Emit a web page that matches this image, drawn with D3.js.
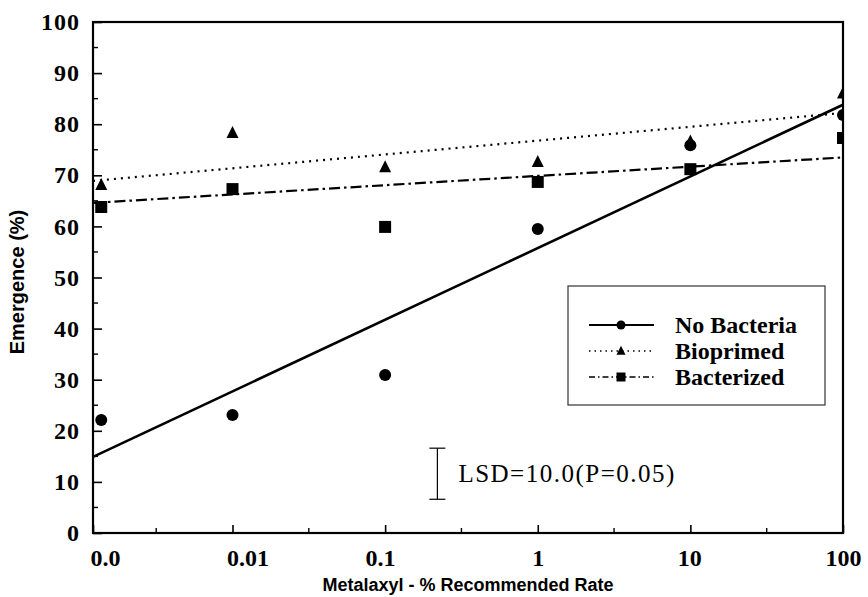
<!DOCTYPE html>
<html>
<head>
<meta charset="utf-8">
<script src="https://cdn.jsdelivr.net/npm/d3@7"></script>
<style>
  body { margin: 0; background: #fff; }
  svg { display: block; }
  .tick-label { font-family: "Liberation Serif", "Times New Roman", serif; font-weight: bold; font-size: 24px; fill: #000; }
  .axis-title { font-family: "Liberation Sans", Arial, sans-serif; font-weight: bold; font-size: 18px; fill: #000; }
  .legend-text { font-family: "Liberation Serif", "Times New Roman", serif; font-weight: bold; font-size: 24px; fill: #000; }
  .lsd-text { font-family: "Liberation Serif", "Times New Roman", serif; font-size: 25px; letter-spacing: 1.5px; fill: #000; }
</style>
</head>
<body>
<svg id="chart" width="868" height="597"></svg>
<script>
// x categories (metalaxyl, % of recommended rate) and where they sit on a log10 axis
const rateLabels = ["0.0", "0.01", "0.1", "1", "10", "100"];
const rateLog = [-2.86, -2, -1, 0, 1, 2]; // "0.0" has no log, drawn just inside the axis
const tickLog = [-2.914, -2, -1, 0, 1, 2];
const minorLog = [-2.5, -1.5, -0.5, 0.5, 1.5];

// emergence (%)
const noBacteria = [22.1, 23.1, 30.9, 59.5, 75.9, 81.8];
const bioprimed = [68.1, 78.3, 71.6, 72.6, 76.6, 86.0];
const bacterized = [63.8, 67.3, 59.9, 68.7, 71.2, 77.3];

// fitted lines: value at left edge and at 100
const seriesNames = ["No Bacteria", "Bioprimed", "Bacterized"];
const fitStart = [14.9, 68.9, 64.6];
const fitEnd = [83.8, 82.2, 73.5];

const yTicks = [0, 10, 20, 30, 40, 50, 60, 70, 80, 90, 100];
const yMinor = [5, 15, 25, 35, 45, 55, 65, 75, 85, 95];

// least significant difference bar
const lsdValue = 10.0;
const lsdCenter = 11.6;
const lsdRate = 0.22;

const width = 868, height = 597;
const margin = { top: 22, right: 25, bottom: 64, left: 93 };

const svg = d3.select("#chart");
const x = d3.scaleLinear().domain([tickLog[0], 2]).range([margin.left, width - margin.right]);
const y = d3.scaleLinear().domain([0, 100]).range([height - margin.bottom, margin.top]);

const defs = svg.append("defs");
defs.append("clipPath").attr("id", "plot-clip")
  .append("rect")
  .attr("x", margin.left).attr("y", margin.top)
  .attr("width", width - margin.left - margin.right)
  .attr("height", height - margin.top - margin.bottom);

const styles = [
  { dash: null, width: 2.6, shape: "circle" },
  { dash: "2,5", width: 2.2, shape: "triangle" },
  { dash: "11,4,2.5,4", width: 2.2, shape: "square" }
];

function markerPath(shape, size) {
  if (shape === "circle") return d3.symbol(d3.symbolCircle, Math.PI * size * size / 4)();
  if (shape === "triangle") {
    const h = size, w = size;
    return `M0,${-h * 0.58}L${w / 2},${h * 0.42}L${-w / 2},${h * 0.42}Z`;
  }
  return `M${-size / 2},${-size / 2}h${size}v${size}h${-size}Z`;
}

const plot = svg.append("g").attr("clip-path", "url(#plot-clip)");

// fit lines
const line = d3.line().x((d) => x(d[0])).y((d) => y(d[1]));
seriesNames.forEach((name, i) => {
  plot.append("path")
    .datum([[tickLog[0], fitStart[i]], [2, fitEnd[i]]])
    .attr("d", line)
    .attr("fill", "none")
    .attr("stroke", "#000")
    .attr("stroke-width", styles[i].width)
    .attr("stroke-dasharray", styles[i].dash);
});

// points
[noBacteria, bioprimed, bacterized].forEach((values, i) => {
  plot.selectAll(null)
    .data(values.map((v, j) => [rateLog[j], v]))
    .join("path")
    .attr("transform", (d) => `translate(${x(d[0])},${y(d[1])})`)
    .attr("d", markerPath(styles[i].shape, 12))
    .attr("fill", "#000");
});

// frame
svg.append("rect")
  .attr("x", margin.left).attr("y", margin.top)
  .attr("width", width - margin.left - margin.right)
  .attr("height", height - margin.top - margin.bottom)
  .attr("fill", "none").attr("stroke", "#000").attr("stroke-width", 2.2);

// y axis
const yAxis = svg.append("g").attr("transform", `translate(${margin.left},0)`)
  .call(d3.axisLeft(y).tickValues(yTicks).tickSizeInner(-9).tickSizeOuter(0).tickPadding(13));
yAxis.select(".domain").remove();
yAxis.selectAll(".tick line").attr("stroke-width", 1.6);
yAxis.selectAll(".tick text").attr("class", "tick-label").attr("font-size", null).attr("font-family", null)
  .style("letter-spacing", "1px");
svg.append("g").selectAll("line").data(yMinor).join("line")
  .attr("x1", margin.left).attr("x2", margin.left + 5)
  .attr("y1", (d) => y(d)).attr("y2", (d) => y(d))
  .attr("stroke", "#000").attr("stroke-width", 1.4);

// x axis
const labelNudge = [12, 15, -5, 0, -1, 0];
const xAxis = svg.append("g").attr("transform", `translate(0,${height - margin.bottom})`)
  .call(d3.axisBottom(x).tickValues(tickLog).tickSizeInner(-8).tickSizeOuter(0).tickPadding(16)
    .tickFormat((d, i) => rateLabels[i]));
xAxis.select(".domain").remove();
xAxis.selectAll(".tick line").attr("stroke-width", 1.6);
xAxis.selectAll(".tick text").attr("class", "tick-label").attr("font-size", null).attr("font-family", null)
  .attr("dx", (d, i) => labelNudge[i]);
svg.append("g").selectAll("line").data(minorLog).join("line")
  .attr("x1", (d) => x(d)).attr("x2", (d) => x(d))
  .attr("y1", height - margin.bottom).attr("y2", height - margin.bottom - 5)
  .attr("stroke", "#000").attr("stroke-width", 1.4);

// axis titles
svg.append("text").attr("class", "axis-title")
  .attr("x", 468).attr("y", 591).attr("text-anchor", "middle")
  .text("Metalaxyl - % Recommended Rate");
svg.append("text").attr("class", "axis-title")
  .attr("transform", "translate(24,282) rotate(-90)").attr("text-anchor", "middle")
  .style("font-size", "20px")
  .text("Emergence (%)");

// LSD bar
const lx = x(Math.log10(lsdRate));
const lsd = svg.append("g").attr("stroke", "#000").attr("stroke-width", 1.2);
lsd.append("line").attr("x1", lx).attr("x2", lx)
  .attr("y1", y(lsdCenter + lsdValue / 2)).attr("y2", y(lsdCenter - lsdValue / 2));
[lsdCenter + lsdValue / 2, lsdCenter - lsdValue / 2].forEach((v) => {
  lsd.append("line").attr("x1", lx - 8).attr("x2", lx + 8).attr("y1", y(v)).attr("y2", y(v));
});
svg.append("text").attr("class", "lsd-text")
  .attr("x", lx + 21).attr("y", y(lsdCenter) + 8)
  .text(`LSD=${lsdValue.toFixed(1)}(P=0.05)`);

// legend
const legend = svg.append("g").attr("transform", "translate(568,286)");
legend.append("rect").attr("width", 257).attr("height", 119)
  .attr("fill", "#fff").attr("stroke", "#333").attr("stroke-width", 1.2);
seriesNames.forEach((name, i) => {
  const row = legend.append("g").attr("transform", `translate(0,${39 + i * 26})`);
  row.append("line").attr("x1", 21).attr("x2", 86)
    .attr("stroke", "#000").attr("stroke-width", i === 0 ? 2 : 1.6)
    .attr("stroke-dasharray", i === 0 ? null : i === 1 ? "1.5,4" : "6,3,1.5,3");
  row.append("path").attr("transform", "translate(53,0)")
    .attr("d", markerPath(styles[i].shape, 9)).attr("fill", "#000");
  row.append("text").attr("class", "legend-text").attr("x", 107).attr("y", 8).text(name);
});
</script>
</body>
</html>
